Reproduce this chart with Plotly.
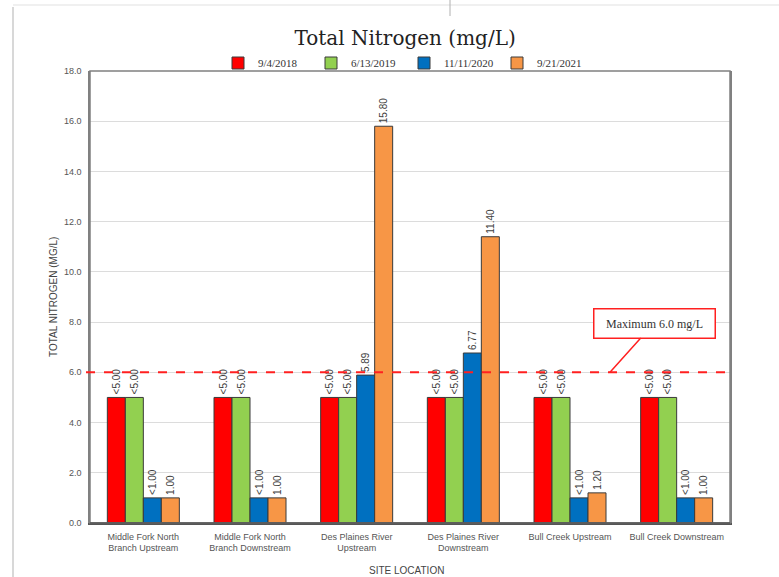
import plotly.graph_objects as go

sites = ["Middle Fork North<br>Branch Upstream", "Middle Fork North<br>Branch Downstream",
         "Des Plaines River<br>Upstream", "Des Plaines River<br>Downstream",
         "Bull Creek Upstream", "Bull Creek Downstream"]
dates = ["9/4/2018", "6/13/2019", "11/11/2020", "9/21/2021"]
v2018 = [5.0, 5.0, 5.0, 5.0, 5.0, 5.0]
v2019 = [5.0, 5.0, 5.0, 5.0, 5.0, 5.0]
v2020 = [1.0, 1.0, 5.89, 6.77, 1.0, 1.0]
v2021 = [1.0, 1.0, 15.80, 11.40, 1.20, 1.00]
t2018 = ["<5.00"] * 6
t2019 = ["<5.00"] * 6
t2020 = ["<1.00", "<1.00", "5.89", "6.77", "<1.00", "<1.00"]
t2021 = ["1.00", "1.00", "15.80", "11.40", "1.20", "1.00"]
limit = 6.0
y_ticks = [0, 2, 4, 6, 8, 10, 12, 14, 16, 18]

colors = ["#FF0000", "#92D050", "#0070C0", "#F79646"]
series = [v2018, v2019, v2020, v2021]
texts = [t2018, t2019, t2020, t2021]

fig = go.Figure()
for d, v, t, c in zip(dates, series, texts, colors):
    fig.add_trace(go.Bar(
        x=sites, y=v, name=d, text=t, textposition="outside", textangle=-90,
        constraintext="none",
        textfont=dict(size=10, color="#404040", family="Liberation Sans"),
        marker=dict(color=c, line=dict(color="#3a3a3a", width=1)),
        cliponaxis=False,
    ))

W, H = 779, 577
L, R, T, B = 90, 730, 71, 523
def px(x):
    return (x - L) / (R - L)
def py(y):
    return (B - y) / (B - T)

fig.update_layout(
    width=W, height=H,
    margin=dict(l=L, r=W - R, t=T, b=H - B, autoexpand=False),
    paper_bgcolor="white", plot_bgcolor="white",
    barmode="group", bargap=0.325, bargroupgap=0,
    title=dict(text="Total Nitrogen (mg/L)", x=0.52, xanchor="center", xref="container",
               y=1 - 38 / H, yanchor="middle",
               font=dict(family="DejaVu Serif", size=20, color="#222222")),
    legend=dict(orientation="h", x=px(404), xanchor="center", y=py(63), yanchor="middle",
                font=dict(family="Liberation Serif", size=11, color="#333333"),
                itemwidth=30, entrywidth=48, entrywidthmode="pixels",
                tracegroupgap=0, bgcolor="rgba(0,0,0,0)"),
    showlegend=True,
    font=dict(family="Liberation Sans", color="#555555"),
)
fig.update_xaxes(showline=True, linecolor="#555555", linewidth=1.5, mirror=False,
                 tickfont=dict(size=9, color="#555555"), ticks="", ticklabelstandoff=4)
fig.update_yaxes(range=[0, 18], tickvals=y_ticks, tickformat=".1f",
                 showgrid=True, gridcolor="#dcdcdc", gridwidth=1,
                 showline=True, linecolor="#808080", linewidth=1.5, mirror=True,
                 tickfont=dict(size=9, color="#555555"), ticks="", ticklabelstandoff=5,
                 zeroline=False)

# plot frame
fig.add_shape(type="rect", xref="paper", yref="paper", x0=0, x1=1, y0=0, y1=1,
              line=dict(color="#808080", width=1.5), layer="above")
# bottom axis darker
fig.add_shape(type="line", xref="paper", yref="paper", x0=0, x1=1, y0=0, y1=0,
              line=dict(color="#555555", width=1.5), layer="above")

# limit line
fig.add_shape(type="line", xref="paper", yref="y", x0=px(86), x1=1, y0=limit, y1=limit,
              line=dict(color="#FF2020", width=2, dash="dash"), layer="above")

fig.add_annotation(x=px(610), y=limit, xref="paper", yref="y",
                   text="Maximum 6.0 mg/L", showarrow=True, arrowhead=0, arrowcolor="#FF2020",
                   arrowwidth=1.5, ax=44, ay=-49, width=118, height=26,
                   bordercolor="#FF2020", borderwidth=1.5, bgcolor="white",
                   font=dict(family="Liberation Serif", size=12, color="#333333"))

fig.add_annotation(x=px(53), y=0.5, xref="paper", yref="paper", text="TOTAL NITROGEN (MG/L)",
                   textangle=-90, showarrow=False, font=dict(size=10, color="#444444"),
                   xanchor="center", yanchor="middle")
fig.add_annotation(x=px(406), y=py(570), xref="paper", yref="paper", text="SITE LOCATION",
                   showarrow=False, font=dict(size=10, color="#444444"),
                   xanchor="center", yanchor="middle")

# page artifacts
fig.add_shape(type="line", xref="paper", yref="paper", x0=px(13), x1=px(13), y0=py(577), y1=py(7),
              line=dict(color="#d8d8d8", width=2))
fig.add_shape(type="line", xref="paper", yref="paper", x0=px(13), x1=px(779), y0=py(5), y1=py(5),
              line=dict(color="#f0f0f0", width=2))
fig.add_shape(type="line", xref="paper", yref="paper", x0=px(450), x1=px(450), y0=py(16), y1=py(0),
              line=dict(color="#b0b0b0", width=1))

fig.write_html("out.html", config={"displayModeBar": False},
               post_script="document.body.style.margin='0';")
